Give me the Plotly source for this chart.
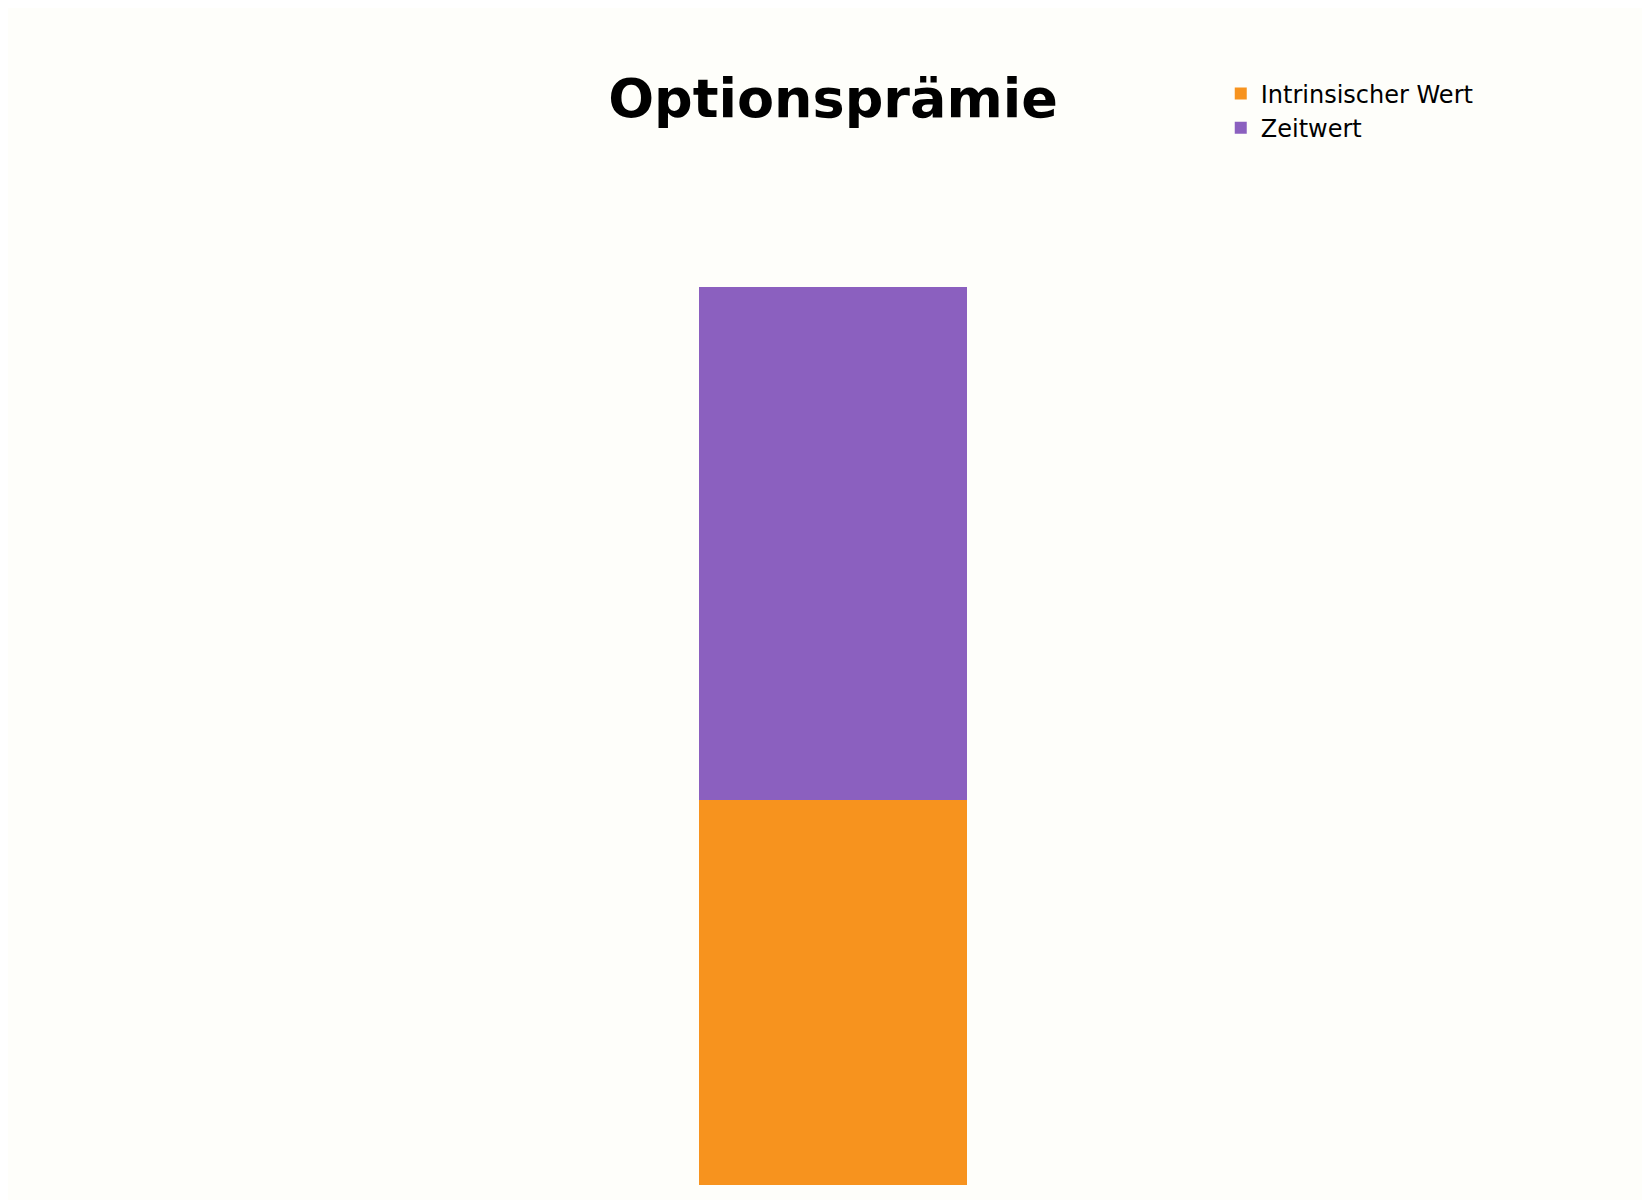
import plotly.graph_objects as go

categories = ["Optionsprämie"]
intrinsic = [3]
time_value = [4]

fig = go.Figure()
fig.add_bar(x=categories, y=intrinsic, name="Intrinsischer Wert", marker_color="#F7931E", marker_line_width=0)
fig.add_bar(x=categories, y=time_value, name="Zeitwert", marker_color="#8B60BF", marker_line_width=0)

fig.update_layout(
    width=1650, height=1200, barmode="stack", bargap=0.838,
    paper_bgcolor="#FEFEFA", plot_bgcolor="#FEFEFA",
    font=dict(family="DejaVu Sans", color="black"),
    title=dict(text="<b>Optionsprämie</b>", x=0.5, xanchor="center", y=0.925, yanchor="middle",
               font=dict(size=54, family="DejaVu Sans")),
    margin=dict(l=0, r=0, t=279, b=23),
    xaxis=dict(visible=False),
    yaxis=dict(visible=False, range=[0, 7]),
    legend=dict(x=0.735, xanchor="left", y=1.24, yanchor="top", font=dict(size=24),
                bgcolor="rgba(0,0,0,0)", traceorder="normal"),
)
fig.write_html("out.html")
